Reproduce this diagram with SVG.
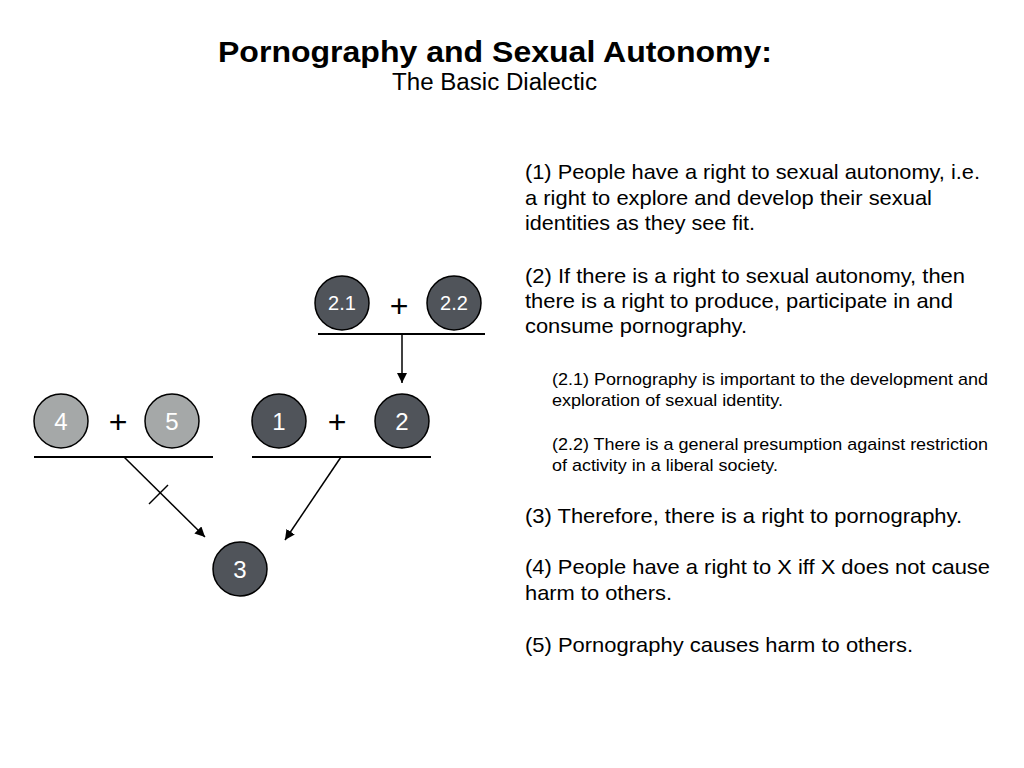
<svg xmlns="http://www.w3.org/2000/svg" width="1024" height="768" viewBox="0 0 1024 768">
<defs>
<marker id="ah" viewBox="0 0 10 10" refX="10" refY="5" markerWidth="10" markerHeight="10" markerUnits="userSpaceOnUse" orient="auto">
<path d="M0,0 L10,5 L0,10 z" fill="#000"/>
</marker>
<style>
.dark{fill:#50545a;stroke:#000;stroke-width:1.5}
.light{fill:#a5a8a8;stroke:#000;stroke-width:1.5}
.num{font-family:"Liberation Sans",Arial,sans-serif;font-size:24px;fill:#fff;text-anchor:middle}
.sm{font-size:20px}
.plus{font-family:"Liberation Sans",Arial,sans-serif;font-size:32px;fill:#000;text-anchor:middle}
.bar{stroke:#000;stroke-width:2;fill:none}
.conn{stroke:#000;stroke-width:1.5;fill:none}
.t{font-family:"Liberation Sans",Arial,sans-serif;font-size:21px;fill:#000}
.s{font-family:"Liberation Sans",Arial,sans-serif;font-size:17px;fill:#000}
</style>
</defs>
<rect width="1024" height="768" fill="#fff"/>
<g id="title">
<text x="218" y="62" font-family="Liberation Sans,Arial,sans-serif" font-size="30" font-weight="bold" textLength="554" lengthAdjust="spacingAndGlyphs">Pornography and Sexual Autonomy:</text>
<text x="392" y="90" font-family="Liberation Sans,Arial,sans-serif" font-size="23" textLength="205" lengthAdjust="spacingAndGlyphs">The Basic Dialectic</text>
</g>
<g id="n21"><circle class="dark" cx="342" cy="303" r="27"/><text class="num sm" x="342" y="310">2.1</text></g>
<g id="n22"><circle class="dark" cx="454" cy="303" r="27"/><text class="num sm" x="454" y="310">2.2</text></g>
<g id="p1"><text class="plus" x="399" y="317">+</text></g>
<g id="n4"><circle class="light" cx="61" cy="421" r="27"/><text class="num" x="61" y="430">4</text></g>
<g id="n5"><circle class="light" cx="172" cy="421" r="27"/><text class="num" x="172" y="430">5</text></g>
<g id="p2"><text class="plus" x="118" y="433">+</text></g>
<g id="n1"><circle class="dark" cx="279" cy="421" r="27"/><text class="num" x="279" y="430">1</text></g>
<g id="n2"><circle class="dark" cx="402" cy="421" r="27"/><text class="num" x="402" y="430">2</text></g>
<g id="p3"><text class="plus" x="337" y="433">+</text></g>
<g id="n3"><circle class="dark" cx="240" cy="569" r="27"/><text class="num" x="240" y="578">3</text></g>
<g id="connectors">
<line class="bar" x1="318" y1="334" x2="485" y2="334"/>
<line class="bar" x1="34" y1="457" x2="213" y2="457"/>
<line class="bar" x1="252" y1="457" x2="431" y2="457"/>
<line class="conn" x1="402" y1="334" x2="402" y2="383" marker-end="url(#ah)"/>
<line class="conn" x1="124" y1="457" x2="205" y2="537" marker-end="url(#ah)"/>
<line class="conn" x1="149" y1="504" x2="168" y2="485"/>
<line class="conn" x1="341" y1="457" x2="285" y2="540" marker-end="url(#ah)"/>
</g>
<g id="text">
<text class="t" x="525" y="179" textLength="455" lengthAdjust="spacingAndGlyphs">(1) People have a right to sexual autonomy, i.e.</text>
<text class="t" x="525" y="205" textLength="407" lengthAdjust="spacingAndGlyphs">a right to explore and develop their sexual</text>
<text class="t" x="525" y="230" textLength="230" lengthAdjust="spacingAndGlyphs">identities as they see fit.</text>
<text class="t" x="525" y="283" textLength="440" lengthAdjust="spacingAndGlyphs">(2) If there is a right to sexual autonomy, then</text>
<text class="t" x="525" y="308" textLength="428" lengthAdjust="spacingAndGlyphs">there is a right to produce, participate in and</text>
<text class="t" x="525" y="333" textLength="222" lengthAdjust="spacingAndGlyphs">consume pornography.</text>
<text class="s" x="552" y="385" textLength="436" lengthAdjust="spacingAndGlyphs">(2.1) Pornography is important to the development and</text>
<text class="s" x="552" y="406" textLength="231" lengthAdjust="spacingAndGlyphs">exploration of sexual identity.</text>
<text class="s" x="552" y="450" textLength="436" lengthAdjust="spacingAndGlyphs">(2.2) There is a general presumption against restriction</text>
<text class="s" x="552" y="471" textLength="226" lengthAdjust="spacingAndGlyphs">of activity in a liberal society.</text>
<text class="t" x="525" y="523" textLength="437" lengthAdjust="spacingAndGlyphs">(3) Therefore, there is a right to pornography.</text>
<text class="t" x="525" y="574" textLength="465" lengthAdjust="spacingAndGlyphs">(4) People have a right to X iff X does not cause</text>
<text class="t" x="525" y="600" textLength="147" lengthAdjust="spacingAndGlyphs">harm to others.</text>
<text class="t" x="525" y="652" textLength="388" lengthAdjust="spacingAndGlyphs">(5) Pornography causes harm to others.</text>
</g>
</svg>
